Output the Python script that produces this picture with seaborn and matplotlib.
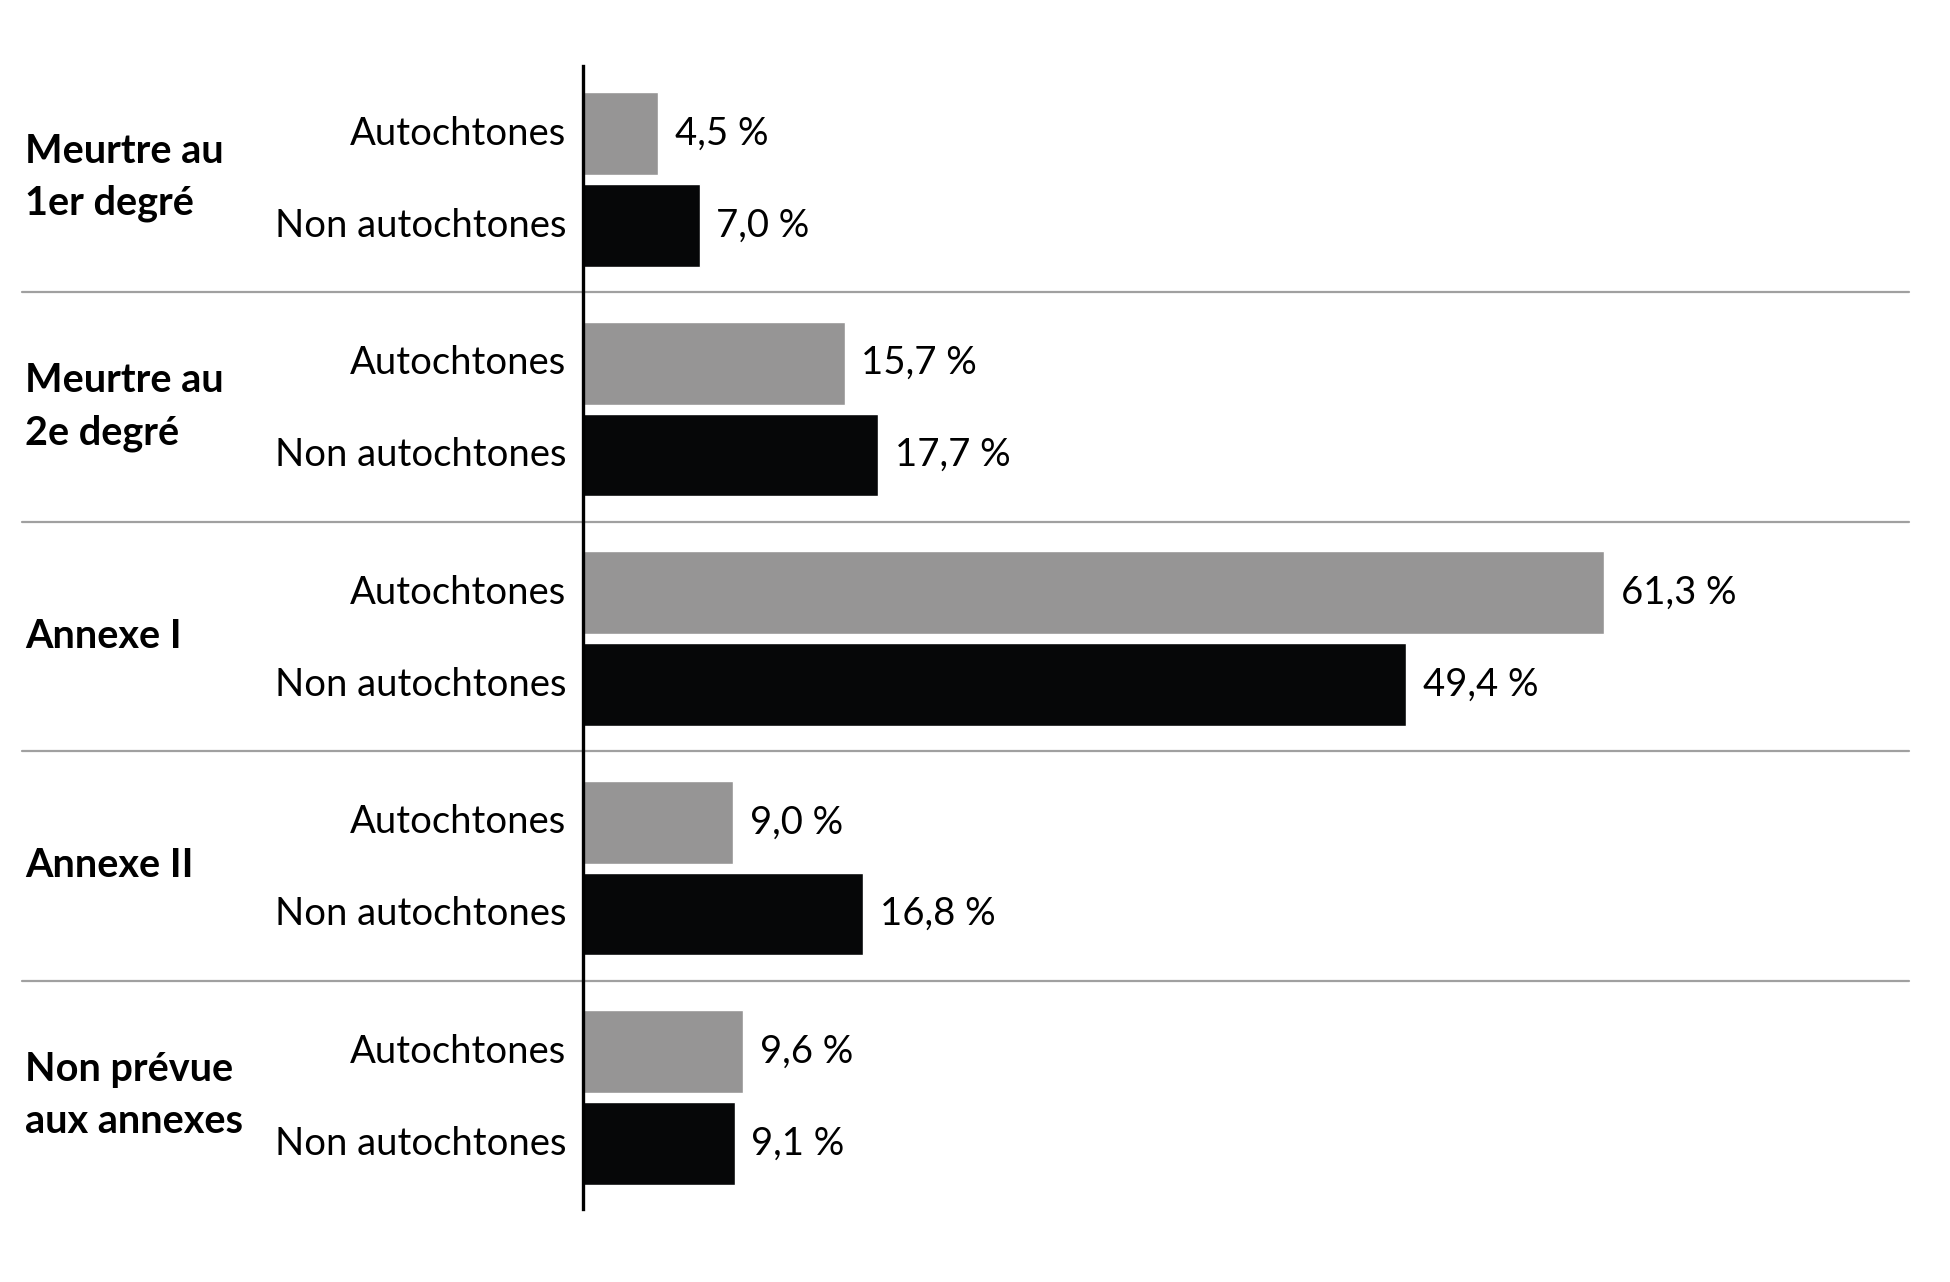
import matplotlib
matplotlib.use("Agg")
import matplotlib.pyplot as plt
import matplotlib.transforms as mtransforms
import seaborn as sns
import pandas as pd

categories = ["Meurtre au\n1er degré", "Meurtre au\n2e degré", "Annexe I", "Annexe II", "Non prévue\naux annexes"]
groups = ["Autochtones", "Non autochtones"]
autochtones = [4.5, 15.7, 61.3, 9.0, 9.6]
non_autochtones = [7.0, 17.7, 49.4, 16.8, 9.1]
colors = ["#969595", "#060708"]

sns.set_theme(style="white")
plt.rcParams["font.family"] = ["Lato", "DejaVu Sans"]

df = pd.DataFrame({
    "cat": categories * 2,
    "grp": [groups[0]] * len(categories) + [groups[1]] * len(categories),
    "val": autochtones + non_autochtones,
})

W, H = 1950, 1282
fig = plt.figure(figsize=(W / 100, H / 100), dpi=100)
ax = fig.add_axes([583 / W, 1 - 1209 / H, (1909 - 583) / W, (1209 - 66) / H])

sns.barplot(data=df, y="cat", x="val", hue="grp", order=categories, hue_order=groups,
            palette=colors, orient="h", width=0.8, gap=0.1, saturation=1,
            ax=ax, legend=False, errorbar=None)

ax.set_xlim(0, 79.6)
ax.set_ylim(4.485, -0.495)
for s in ["top", "right", "bottom"]:
    ax.spines[s].set_visible(False)
ax.spines["left"].set_color("black")
ax.spines["left"].set_linewidth(2.4)
ax.set_xticks([])
ax.set_yticks([])
ax.set_xlabel("")
ax.set_ylabel("")

fs = 27.5
for k, cont in enumerate(ax.containers):
    for bar in cont:
        w = bar.get_width()
        yc = bar.get_y() + bar.get_height() / 2
        ax.annotate(f"{w:.1f}".replace(".", ",") + " %", xy=(w, yc), xytext=(12, 0),
                    textcoords="offset points", ha="left", va="center", fontsize=fs, color="black")
        ax.annotate(groups[k], xy=(0, yc), xytext=(-12, 0), textcoords="offset points",
                    ha="right", va="center", fontsize=fs, color="black", annotation_clip=False)

trans = mtransforms.blended_transform_factory(fig.transFigure, ax.transData)
for i, c in enumerate(categories):
    ax.text(25 / W, i - 0.01, c, transform=trans, ha="left", va="center",
            fontsize=28.5, fontweight="bold", color="black", linespacing=1.5)

for i in range(len(categories) - 1):
    ax.axhline(i + 0.49, xmin=(22 - 583) / (1909 - 583), xmax=1, color="#a0a0a0",
               linewidth=1.6, clip_on=False, zorder=0)

fig.savefig("out.png", dpi=100, facecolor="white")
